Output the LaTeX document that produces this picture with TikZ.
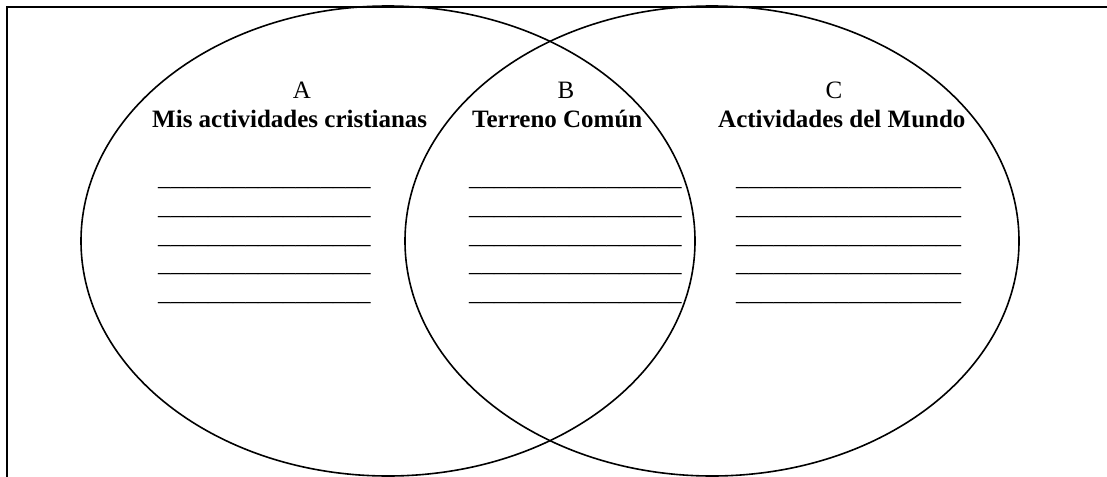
\documentclass[tikz,border=0pt]{standalone}
\usepackage{fontspec}
\setmainfont{Liberation Serif}
\usetikzlibrary{positioning}

\begin{document}
\begin{tikzpicture}[x=1pt,y=-1pt,
		letra/.style={anchor=base,inner sep=0pt,font=\fontsize{25}{28.75}\selectfont},
		titulo/.style={anchor=base west,inner sep=0pt,font=\fontsize{25}{28.75}\selectfont\bfseries},
		raya/.style={anchor=base west,inner sep=0pt,font=\fontsize{25}{28.75}\selectfont}]
				\useasboundingbox (0,0) rectangle (1107,476);
				\clip (0,0) rectangle (1107,476);
				
				% Draw the frame
				\draw[line width=2pt] (7,7.5) rectangle (1130,500);
				
				% Draw the two sets
				\draw[line width=1.6pt] (388,241) ellipse [x radius=307, y radius=235];
				\draw[line width=1.6pt] (712,241) ellipse [x radius=307, y radius=235];
				
				% Place the letters
				\node[letra] (letraA) at (302,99) {A};
				\node[letra] (letraB) at (566,99) {B};
				\node[letra] (letraC) at (834,99) {C};
				
				% Place the titles
				\node[titulo] (tituloA) at (152,128) {Mis actividades cristianas};
				\node[titulo] (tituloB) at (472,128) {Terreno Común};
				\node[titulo] (tituloC) at (718,128) {Actividades del Mundo};
				
				% Draw the blank lines
				\foreach \i in {1,...,5} {
					\node[raya] (rayaA\i) at (158,156.75+28.75*\i) {\_\_\_\_\_\_\_\_\_\_\_\_\_\_\_\_\_};
					\node[raya] (rayaB\i) at (469,156.75+28.75*\i) {\_\_\_\_\_\_\_\_\_\_\_\_\_\_\_\_\_};
					\node[raya] (rayaC\i) at (736,156.75+28.75*\i) {\_\_\_\_\_\_\_\_\_\_\_\_\_\_\_\_\_\_};
				}
			\end{tikzpicture}
\end{document}
